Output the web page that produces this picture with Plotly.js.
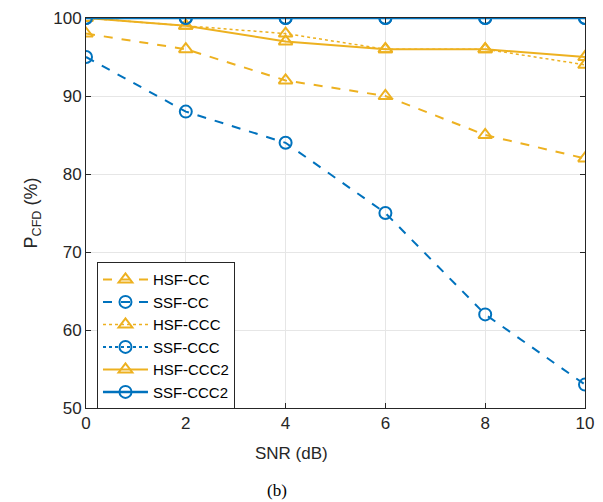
<!DOCTYPE html>
<html><head><meta charset="utf-8">
<script src="https://cdn.plot.ly/plotly-3.0.1.min.js"></script>
<style>body{margin:0;padding:0;background:#fff}#c{width:603px;height:502px}</style>
</head><body><div id="c"></div>
<script>
const snr = [0, 2, 4, 6, 8, 10];
const hsfCC = [98, 96, 92, 90, 85, 82];
const ssfCC = [95, 88, 84, 75, 62, 53];
const hsfCCC = [100, 99, 98, 96, 96, 94];
const ssfCCC = [100, 100, 100, 100, 100, 100];
const hsfCCC2 = [100, 99, 97, 96, 96, 95];
const ssfCCC2 = [100, 100, 100, 100, 100, 100];
const xTicks = [0, 2, 4, 6, 8, 10];
const yTicks = [50, 60, 70, 80, 90, 100];

const SANS = "'Liberation Sans', Arial, sans-serif";
const SERIF = "'Liberation Serif', 'Times New Roman', serif";
const orange = '#EDB120', blue = '#0072BD';
function tr(name, y, color, dash, sym, w) {
  return {x: snr, y: y, name: name, type: 'scatter', mode: 'lines+markers',
    line: {color: color, dash: dash, width: w},
    marker: {symbol: sym, size: 12, color: color, line: {color: color, width: 2}}};
}
const data = [
  tr('HSF-CC', hsfCC, orange, 'dash', 'triangle-up-open', 2),
  tr('SSF-CC', ssfCC, blue, 'dash', 'circle-open', 2),
  tr('HSF-CCC', hsfCCC, orange, 'dot', 'triangle-up-open', 1.5),
  tr('SSF-CCC', ssfCCC, blue, 'dot', 'circle-open', 2),
  tr('HSF-CCC2', hsfCCC2, orange, 'solid', 'triangle-up-open', 2),
  tr('SSF-CCC2', ssfCCC2, blue, 'solid', 'circle-open', 2.5)
];
const layout = {
  width: 603, height: 502,
  margin: {l: 86, r: 18, t: 18, b: 94},
  paper_bgcolor: '#fff', plot_bgcolor: '#fff',
  font: {family: SANS, size: 16, color: '#262626'},
  showlegend: true,
  legend: {x: 0.022, y: 0.374, xanchor: 'left', yanchor: 'top',
    bgcolor: '#fff', bordercolor: '#262626', borderwidth: 1,
    font: {family: SANS, size: 15, color: '#000'}, tracegroupgap: 0, itemwidth: 45},
  xaxis: {range: [0, 10], tickvals: xTicks, ticks: 'inside', ticklen: 5,
    tickcolor: '#262626', showline: true, linecolor: '#262626', linewidth: 1,
    mirror: 'ticks', showgrid: true, gridcolor: '#e6e6e6', zeroline: false,
    tickfont: {family: SANS, size: 17, color: '#262626'}},
  yaxis: {range: [50, 100], tickvals: yTicks, ticks: 'inside', ticklen: 5,
    tickcolor: '#262626', showline: true, linecolor: '#262626', linewidth: 1,
    mirror: 'ticks', showgrid: true, gridcolor: '#e6e6e6', zeroline: false,
    tickfont: {family: SANS, size: 17, color: '#262626'},
    title: {text: 'P<sub>CFD</sub> (%)', font: {family: SANS, size: 18, color: '#262626'}, standoff: 10}},
  annotations: [
    {text: 'SNR (dB)', xref: 'paper', yref: 'paper', x: (291 - 86) / 499, y: (408 - 453) / 390,
      xanchor: 'center', yanchor: 'middle', showarrow: false,
      font: {family: SANS, size: 17, color: '#262626'}},
    {text: '(b)', xref: 'paper', yref: 'paper', x: (277 - 86) / 499, y: (408 - 491) / 390,
      xanchor: 'center', yanchor: 'middle', showarrow: false,
      font: {family: SERIF, size: 17, color: '#000'}}]
};
Plotly.newPlot('c', data, layout, {displayModeBar: false, staticPlot: true});
</script></body></html>
